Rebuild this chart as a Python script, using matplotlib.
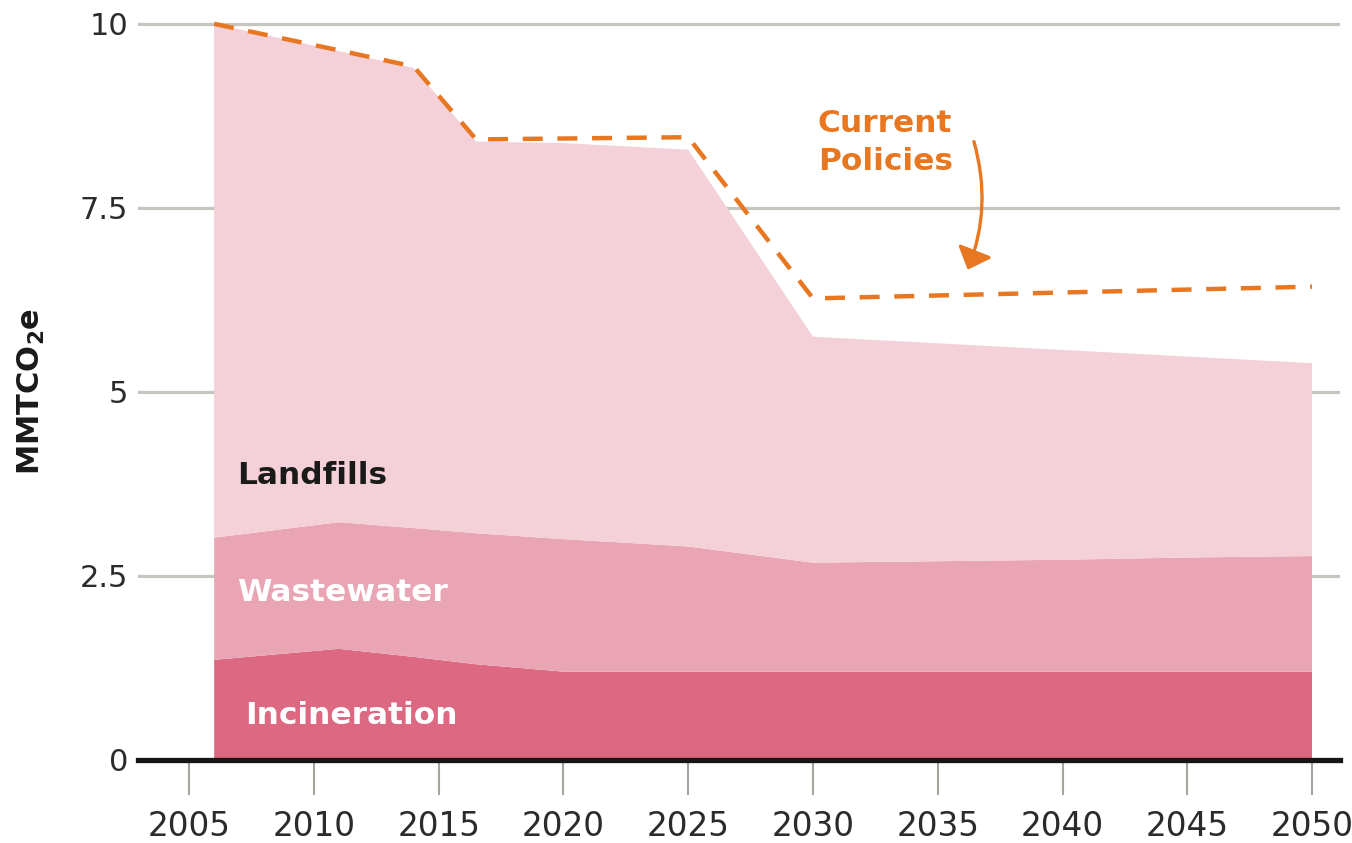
import matplotlib
matplotlib.use("Agg")
import matplotlib.pyplot as plt
from matplotlib.patches import FancyArrowPatch

# ---- data ----
years = [2006, 2011, 2014, 2016.5, 2020, 2025, 2030, 2035, 2040, 2045, 2050]
incineration = [1.36, 1.51, 1.40, 1.30, 1.20, 1.20, 1.20, 1.20, 1.20, 1.20, 1.20]
wastewater = [1.66, 1.72, 1.75, 1.78, 1.80, 1.70, 1.48, 1.50, 1.52, 1.55, 1.57]
landfills = [6.98, 6.40, 6.25, 5.32, 5.38, 5.39, 3.07, 2.96, 2.85, 2.73, 2.62]

policy_years = [2006, 2011, 2014, 2016.5, 2025, 2030, 2050]
policy_values = [10.0, 9.64, 9.42, 8.43, 8.46, 6.27, 6.43]

xticks = [2005, 2010, 2015, 2020, 2025, 2030, 2035, 2040, 2045, 2050]
yticks = [0, 2.5, 5, 7.5, 10]
ytick_labels = ["0", "2.5", "5", "7.5", "10"]

# ---- style ----
c_land = "#F4D0D9"
c_waste = "#E9A5B4"
c_incin = "#DC6882"
c_orange = "#E87722"
c_grid = "#C4C6BF"
c_text = "#2b2b2b"

fig = plt.figure(figsize=(13.52, 8.43), dpi=100)
ax = fig.add_axes([0.1021, 0.0985, 0.889, 0.8837])

ax.stackplot(years, incineration, wastewater, landfills,
             colors=[c_incin, c_waste, c_land], linewidth=0, zorder=2)

ax.plot(policy_years, policy_values, color=c_orange, lw=3.2,
        linestyle=(0, (4.5, 3.3)), solid_joinstyle="round",
        dash_joinstyle="round", dash_capstyle="butt", zorder=4)

ax.set_xlim(2002.95, 2051.12)
ax.set_ylim(0, 10.12)

ax.set_yticks(yticks)
ax.set_yticklabels(ytick_labels)
ax.set_xticks(xticks)
ax.grid(axis="y", color=c_grid, lw=2.3, zorder=1)
ax.set_axisbelow(True)

for s in ["top", "right", "left"]:
    ax.spines[s].set_visible(False)
ax.spines["bottom"].set_color("#151515")
ax.spines["bottom"].set_linewidth(3.8)
ax.spines["bottom"].set_zorder(5)

ax.tick_params(axis="y", length=0, pad=7, labelsize=22, labelcolor=c_text)
ax.tick_params(axis="x", length=25, width=1.5, color="#a4a69d", pad=11,
               labelsize=23.5, labelcolor=c_text)

# series labels
ax.text(2006.93, 3.87, "Landfills", fontsize=22.5, fontweight="bold",
        color="#1a1a1a", ha="left", va="center", zorder=6)
ax.text(2006.93, 2.28, "Wastewater", fontsize=22.5, fontweight="bold",
        color="white", ha="left", va="center", zorder=6)
ax.text(2007.25, 0.60, "Incineration", fontsize=22.5, fontweight="bold",
        color="white", ha="left", va="center", zorder=6)

ax.text(2030.2, 8.39, "Current\nPolicies", fontsize=22.5, fontweight="bold",
        color=c_orange, ha="left", va="center", linespacing=1.4, zorder=6)

arrow = FancyArrowPatch((2036.45, 8.40), (2036.2, 6.66),
                        connectionstyle="arc3,rad=-0.17",
                        arrowstyle="-|>,head_length=12,head_width=11",
                        shrinkA=0, shrinkB=0,
                        color=c_orange, lw=2.4, zorder=6)
ax.add_patch(arrow)

fig.text(0.023, 0.535, "MMTCO$_\\mathbf{2}$e", rotation=90, fontsize=22,
         fontweight="bold", color="#1a1a1a", ha="center", va="center")

fig.savefig("out.png", dpi=100)
